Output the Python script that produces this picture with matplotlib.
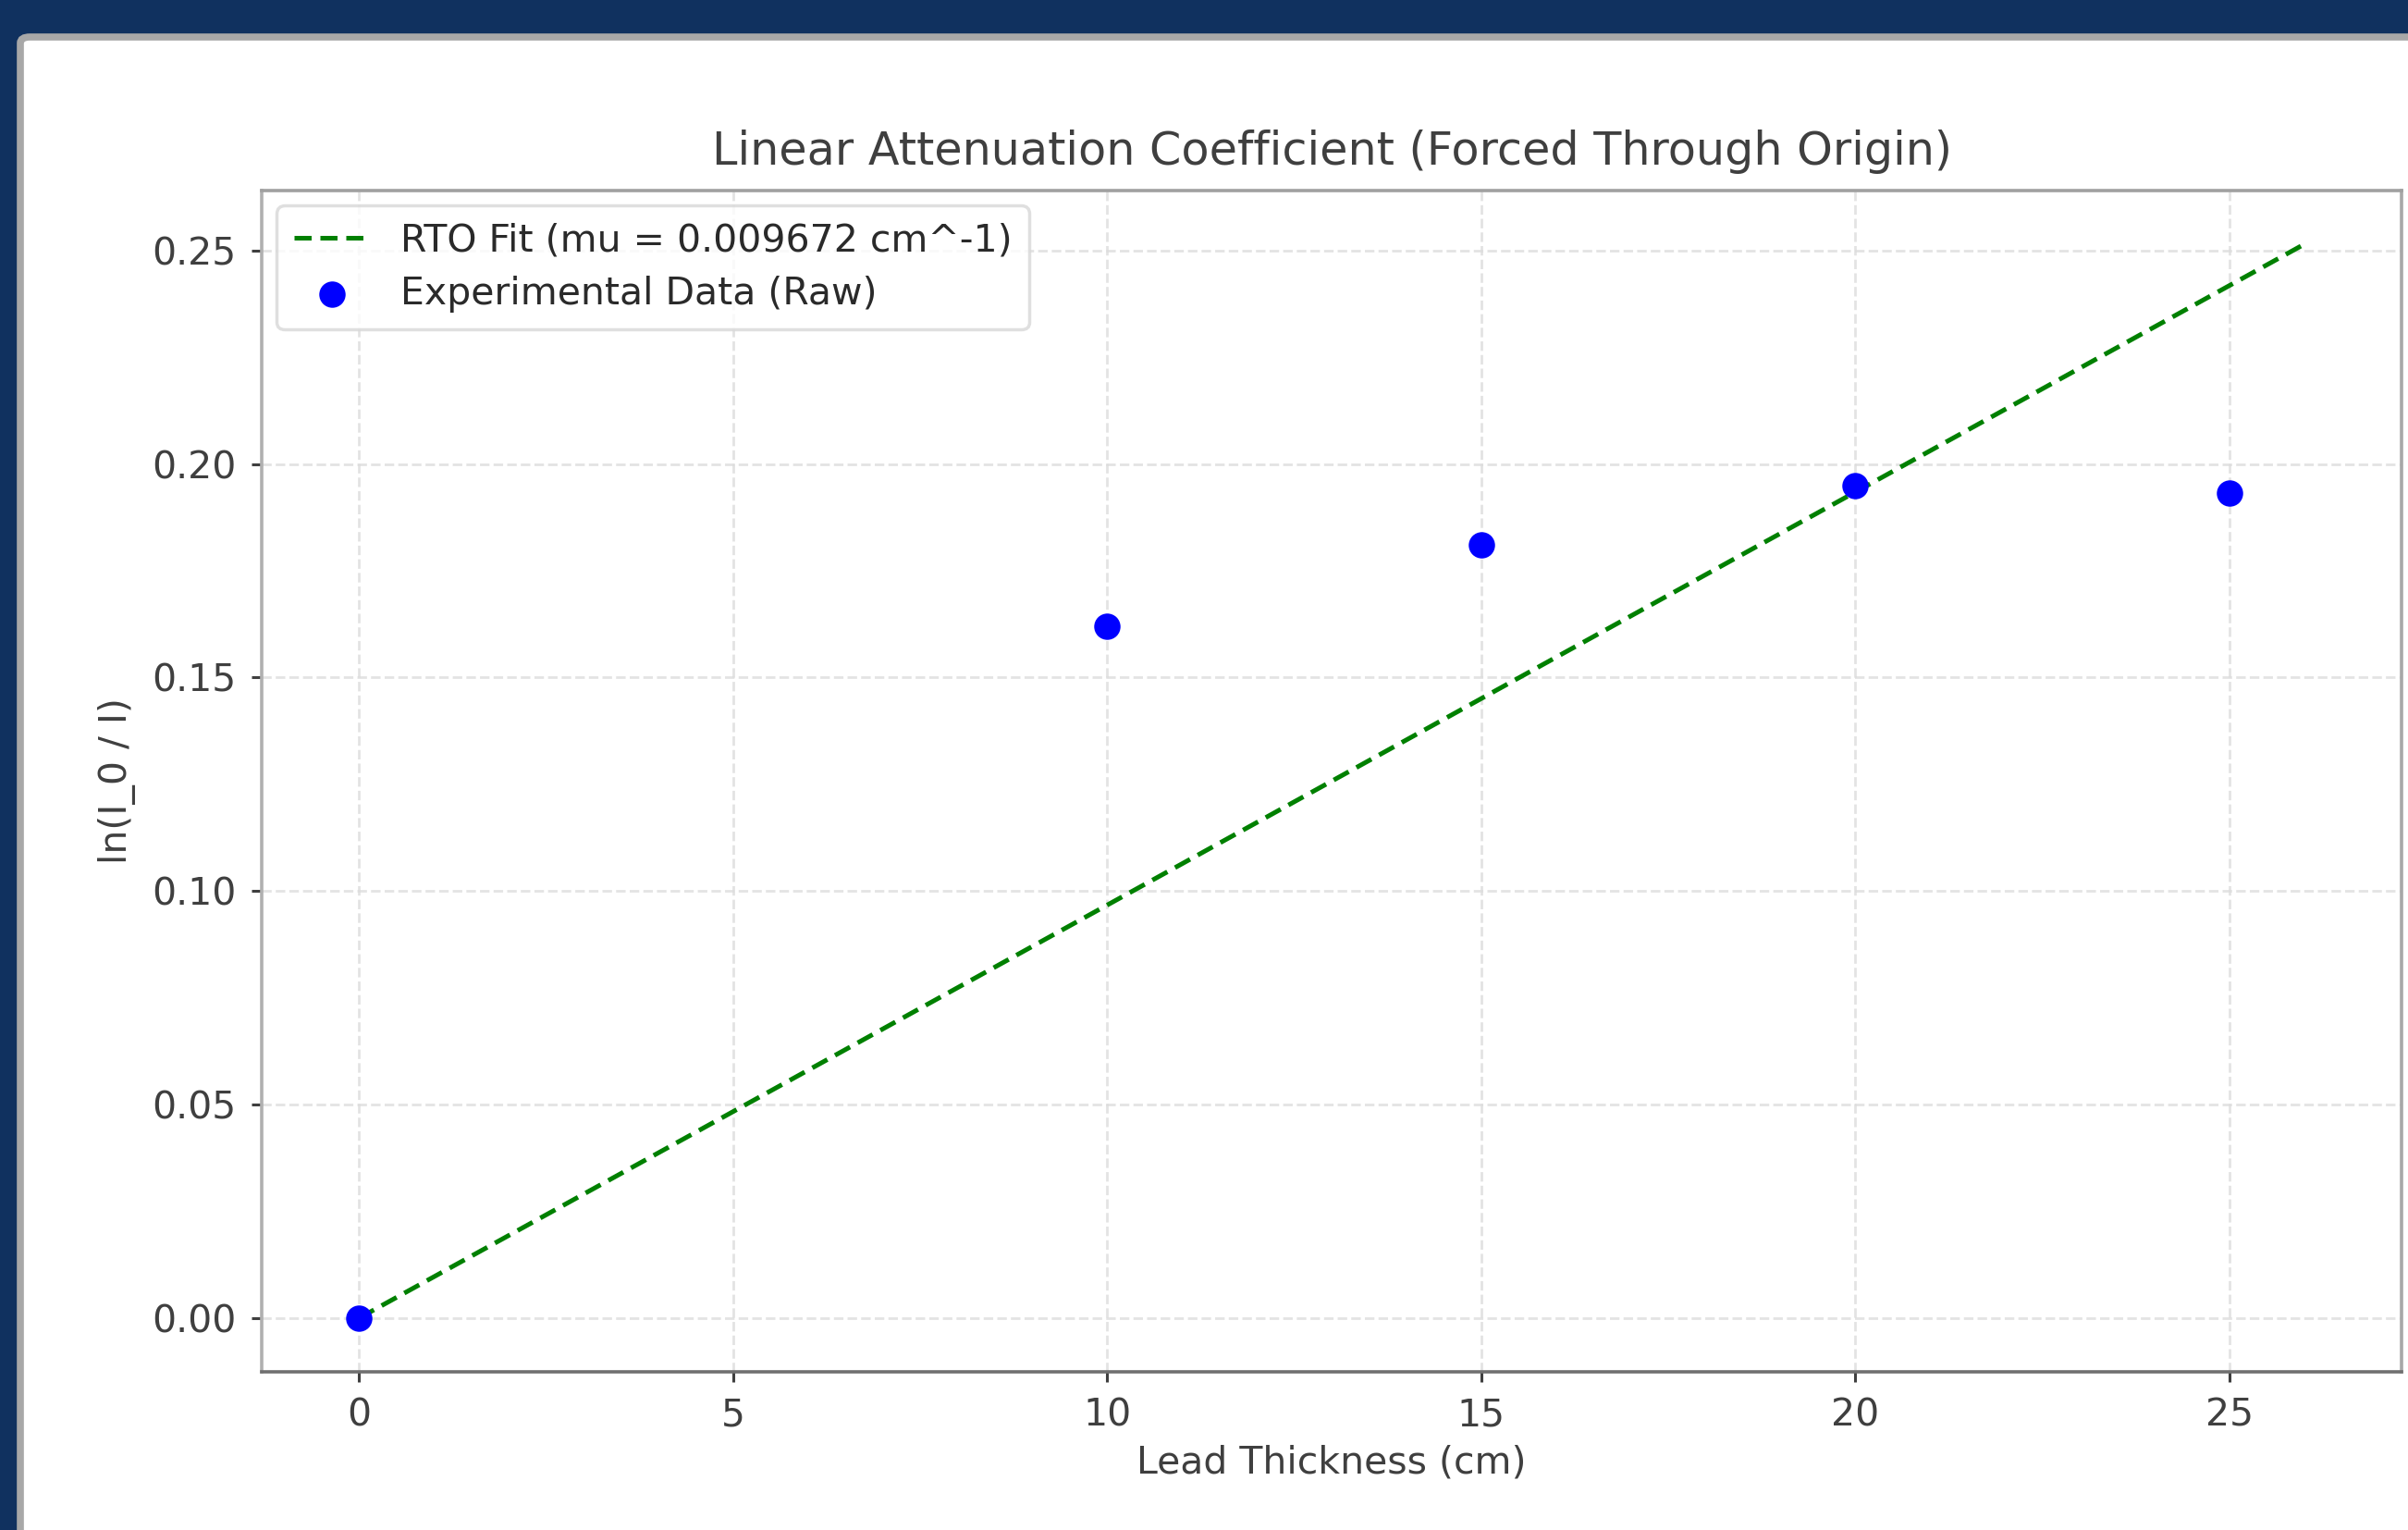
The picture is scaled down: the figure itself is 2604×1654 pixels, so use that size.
import numpy as np
import matplotlib
matplotlib.use("Agg")
import matplotlib.pyplot as plt
from matplotlib.patches import FancyBboxPatch

# ---- data ----
thickness_cm = [0, 10, 15, 20, 25]
ln_ratio = [0.0, 0.1620, 0.1810, 0.1950, 0.1932]
mu_fit = 0.009672
fit_x = [0, 26]
x_ticks = [0, 5, 10, 15, 20, 25]
y_ticks = [0.00, 0.05, 0.10, 0.15, 0.20, 0.25]

title = "Linear Attenuation Coefficient (Forced Through Origin)"
xlabel = "Lead Thickness (cm)"
ylabel = "ln(I_0 / I)"
fit_label = f"RTO Fit (mu = {mu_fit:.6f} cm^-1)"
data_label = "Experimental Data (Raw)"

W, H = 2604, 1654
DPI = 100
NAVY = "#10315f"
TXT = "#3f3f3f"
FS = 29.5

fig = plt.figure(figsize=(W / DPI, H / DPI), dpi=DPI, facecolor=NAVY)

# white panel with grey border
panel = FancyBboxPatch((22 / W, -0.05), 1.2, (H - 40) / H + 0.05,
                       boxstyle="round,pad=0,rounding_size=0.004",
                       transform=fig.transFigure, facecolor="white",
                       edgecolor="#a8a8a8", linewidth=5.5, zorder=-10)
fig.patches.append(panel)

ax = fig.add_axes([283 / W, (H - 1483) / H, (2597 - 283) / W, (1483 - 206) / H])
ax.set_zorder(5)
ax.set_facecolor("white")

fx = np.array(fit_x, dtype=float)
ax.plot(fx, mu_fit * fx, linestyle="--", color="green", linewidth=3.6,
        label=fit_label, zorder=2, dashes=(3.7, 1.9))
ax.scatter(thickness_cm, ln_ratio, s=420, color="blue", label=data_label, zorder=3,
           linewidths=0)

ax.set_xticks(x_ticks)
ax.set_yticks(y_ticks)
ax.set_yticklabels([f"{v:.2f}" for v in y_ticks])
ax.set_xlim(-1.3, 27.3)
ax.set_ylim(-0.01257, 0.26404)

ax.grid(True, linestyle="--", color="#dcdcdc", linewidth=2.0, alpha=0.8, zorder=0)
ax.set_axisbelow(True)

ax.tick_params(axis="both", labelsize=FS, colors=TXT, length=8, width=2.2, pad=12)
for lab in ax.get_xticklabels() + ax.get_yticklabels():
    lab.set_color(TXT)
spine_cols = {"bottom": "#707070", "top": "#a0a0a0", "left": "#b0b0b0", "right": "#a8a8a8"}
for k, s in ax.spines.items():
    s.set_color(spine_cols[k])
    s.set_linewidth(2.6)

ax.set_title(title, fontsize=35.5, color=TXT, pad=20)
ax.set_xlabel(xlabel, fontsize=FS, color=TXT, labelpad=8)
ax.set_ylabel(ylabel, fontsize=FS, color=TXT, labelpad=12)

leg = ax.legend(loc="upper left", fontsize=FS, frameon=True, borderpad=0.45,
                handlelength=2.0, handletextpad=0.8, labelspacing=0.42,
                borderaxespad=0.4, fancybox=True)
leg.get_frame().set_edgecolor("#d8d8d8")
leg.get_frame().set_linewidth(2.5)
for t in leg.get_texts():
    t.set_color("#2a2a2a")

fig.savefig("out.png", dpi=DPI, facecolor=NAVY)
